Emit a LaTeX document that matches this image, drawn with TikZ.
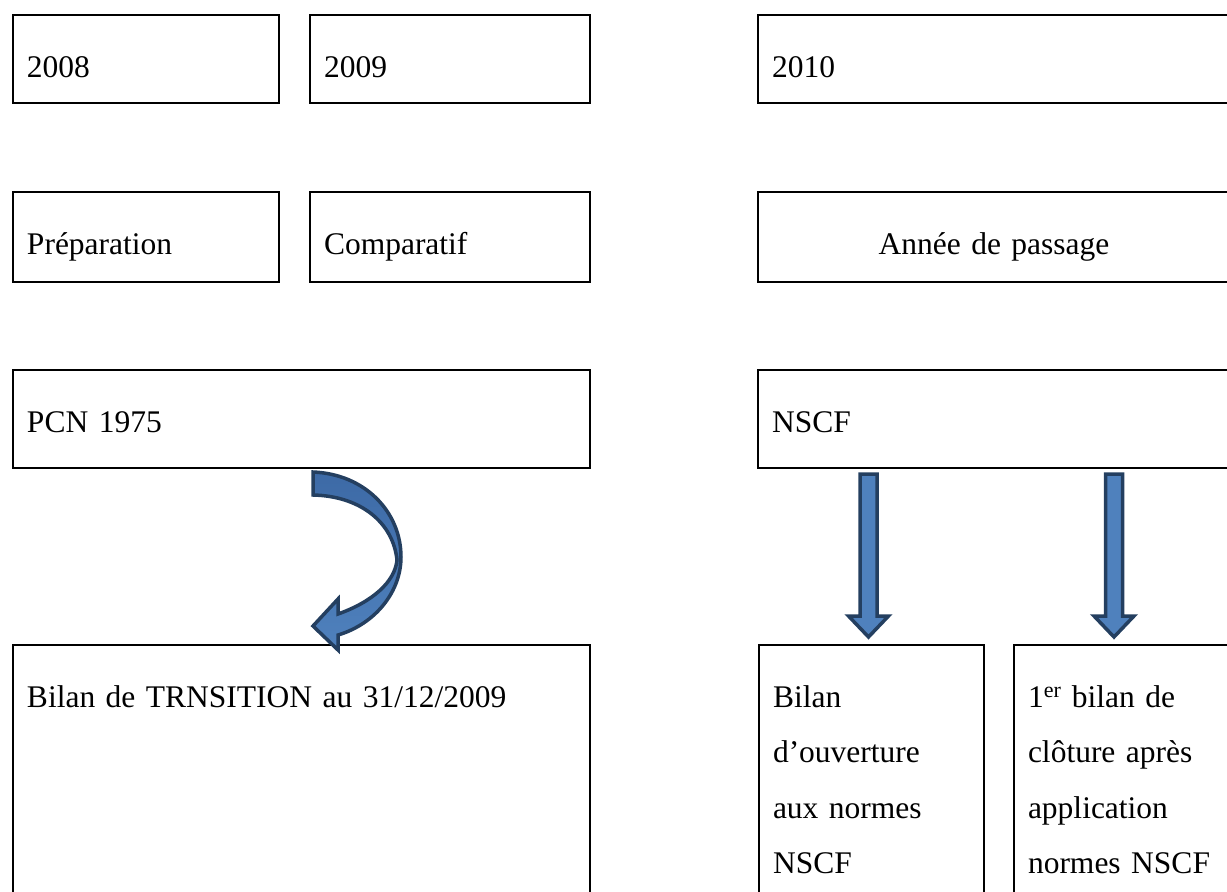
\documentclass[tikz,border=0pt]{standalone}
\usepackage{fontspec}
\setmainfont{Liberation Serif}
\usetikzlibrary{calc}
\definecolor{arrowfill}{HTML}{4F81BD}
\definecolor{arrowtop}{HTML}{3D6AA6}
\definecolor{arrowedge}{HTML}{243F60}
\tikzset{
  box/.style={
    draw, line width=2pt, anchor=north west,
    inner xsep=14pt, inner ysep=0pt,
    text height=62pt, align=left,
    font=\fontsize{31.5}{55.5}\selectfont
  },
  fat arrow/.style={
    fill=arrowfill, draw=arrowedge, line width=3.5pt, line join=miter
  }
}
% straight block arrow pointing down, from #1 to #2
\newcommand\fatdown[2]{%
  \path[fat arrow] let \p1=(#1), \p2=(#2) in
    (\x1-8.5pt,\y1) -- (\x1+8.5pt,\y1) -- (\x1+8.5pt,\y2+21pt)
    -- (\x1+20pt,\y2+21pt) -- (\x1,\y2) -- (\x1-20pt,\y2+21pt)
    -- (\x1-8.5pt,\y2+21pt) -- cycle;}

\begin{document}
\begin{tikzpicture}[x=1pt,y=-1pt]
\useasboundingbox (0,0) rectangle (1227,892);
% years
\node[box, text width=238pt, text depth=26pt] (y2008) at (12,14) {2008};
\node[box, text width=252pt, text depth=26pt] (y2009) at (309,14) {2009};
\node[box, text width=444pt, text depth=26pt] (y2010) at (757,14) {2010};
% phases
\node[box, text width=238pt, text depth=28pt] (prep) at (12,191) {Préparation};
\node[box, text width=252pt, text depth=28pt] (comp) at (309,191) {Comparatif};
\node[box, text width=444pt, text depth=28pt, align=center] (passage) at (757,191) {Année de passage};
% referentials
\node[box, text width=549pt, text depth=36pt] (pcn) at (12,369) {PCN 1975};
\node[box, text width=444pt, text depth=36pt] (nscf) at (757,369) {NSCF};
% balance sheets
\node[box, text width=549pt, text depth=210pt] (transition) at (12,644) {Bilan de TRNSITION au 31/12/2009};
\node[box, text width=197pt, text depth=210pt] (ouverture) at (758,644) {Bilan\\d’ouverture\\aux normes\\NSCF};
\node[box, text width=188pt, text depth=210pt] (cloture) at (1013,644) {1\textsuperscript{er} bilan de\\clôture après\\application\\normes NSCF};

% curved arrow PCN -> transition
\begin{scope}[shift={(pcn.south west)}]
\path[fat arrow, top color=arrowtop, bottom color=arrowfill]
  (301,3) .. controls (353,5) and (389,43) .. (389,88)
  .. controls (389,123) and (363,155) .. (326,166)
  -- (326,181) -- (301,157) -- (326,130) -- (326,145)
  .. controls (360,133) and (383,113) .. (385,91)
  .. controls (381,53) and (348,27) .. (301,26) -- cycle;
\end{scope}

% NSCF -> opening / closing sheets
\coordinate (a1) at ([xshift=-3pt]ouverture.north);
\coordinate (a2) at ([xshift=-8pt]cloture.north);
\fatdown{$(a1 |- nscf.south)+(0,5)$}{$(a1)+(0,-7)$}
\fatdown{$(a2 |- nscf.south)+(0,5)$}{$(a2)+(0,-7)$}
\end{tikzpicture}
\end{document}
